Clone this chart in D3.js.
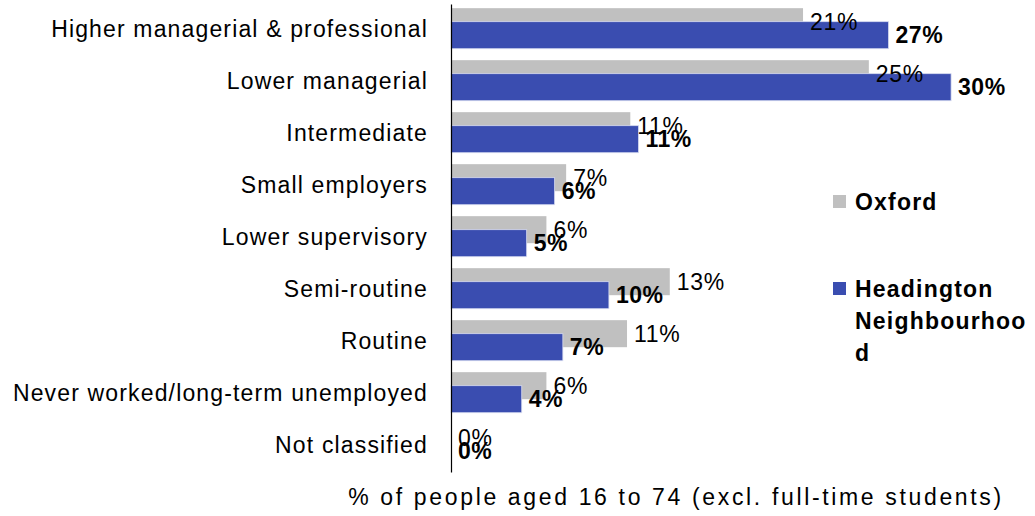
<!DOCTYPE html>
<html>
<head>
<meta charset="utf-8">
<script src="https://cdn.jsdelivr.net/npm/d3@7/dist/d3.min.js"></script>
<style>
  html, body { margin: 0; padding: 0; background: #fff; }
  svg { display: block; font-family: "Liberation Sans", Arial, sans-serif; }
</style>
</head>
<body>
<svg id="chart" width="1035" height="516"></svg>
<script>
const categories = [
  "Higher managerial & professional",
  "Lower managerial",
  "Intermediate",
  "Small employers",
  "Lower supervisory",
  "Semi-routine",
  "Routine",
  "Never worked/long-term unemployed",
  "Not classified"
];
const oxford = [21.4, 25.4, 10.9, 7.0, 5.8, 13.3, 10.7, 5.8, 0.0];
const headington = [26.6, 30.4, 11.4, 6.3, 4.6, 9.6, 6.8, 4.3, 0.0];
const oxfordLabels = ["21%", "25%", "11%", "7%", "6%", "13%", "11%", "6%", "0%"];
const headingtonLabels = ["27%", "30%", "11%", "6%", "5%", "10%", "7%", "4%", "0%"];
const seriesNames = ["Oxford", "Headington Neighbourhood"];
const axisTitle = "% of people aged 16 to 74 (excl. full-time students)";

const svg = d3.select("#chart");
const x0 = 451;
const x = d3.scaleLinear().domain([0, 35]).range([x0, x0 + 35 * 16.45]);
const y = d3.scaleBand().domain(categories).range([4, 472]).paddingInner(0).paddingOuter(0);
const step = y.step();
const barH = step * 0.52;
const greyOff = step * 0.08;
const blueOff = greyOff + barH * 0.5;

const grey = "#c0c0c0", blue = "#3a4db0";

// Oxford bars
svg.append("g").selectAll("rect").data(categories).join("rect")
  .attr("x", x(0))
  .attr("y", (d) => y(d) + greyOff)
  .attr("width", (d, i) => x(oxford[i]) - x(0))
  .attr("height", barH)
  .attr("fill", grey);

// Headington bars
svg.append("g").selectAll("rect").data(categories).join("rect")
  .attr("x", x(0))
  .attr("y", (d) => y(d) + blueOff)
  .attr("width", (d, i) => x(headington[i]) - x(0))
  .attr("height", barH)
  .attr("fill", blue)
  .attr("stroke", (d, i) => headington[i] > 0 ? "#d8dcf0" : "none")
  .attr("stroke-width", 0.8);

// Oxford labels
svg.append("g").selectAll("text").data(categories).join("text")
  .attr("x", (d, i) => x(oxford[i]) + 7)
  .attr("y", (d) => y(d) + greyOff + barH / 2)
  .attr("dy", "0.36em")
  .attr("font-size", 23)
  .attr("letter-spacing", 0.7)
  .attr("fill", "#000")
  .text((d, i) => oxfordLabels[i]);

// Headington labels
svg.append("g").selectAll("text").data(categories).join("text")
  .attr("x", (d, i) => x(headington[i]) + 7)
  .attr("y", (d) => y(d) + blueOff + barH / 2)
  .attr("dy", "0.36em")
  .attr("font-size", 23)
  .attr("font-weight", "bold")
  .attr("letter-spacing", 0.5)
  .attr("fill", "#000")
  .text((d, i) => headingtonLabels[i]);

// Category axis
const yAxis = svg.append("g")
  .attr("transform", `translate(${x0},0)`)
  .call(d3.axisLeft(y).tickSize(0).tickPadding(23));
yAxis.select(".domain").attr("stroke", "#000").attr("stroke-width", 1.2);
yAxis.selectAll("text")
  .attr("font-size", 23)
  .attr("letter-spacing", 1.15)
  .attr("fill", "#000")
  .attr("font-family", "'Liberation Sans', Arial, sans-serif");

// Axis title
svg.append("text")
  .attr("x", 676)
  .attr("y", 505)
  .attr("text-anchor", "middle")
  .attr("font-size", 23)
  .attr("letter-spacing", 2.65)
  .attr("fill", "#000")
  .text(axisTitle);

// Legend
const lg = svg.append("g");
lg.append("rect").attr("x", 833).attr("y", 195).attr("width", 13).attr("height", 13).attr("fill", grey);
lg.append("text").attr("x", 855).attr("y", 210)
  .attr("font-size", 23).attr("font-weight", "bold").attr("letter-spacing", 1.2)
  .text(seriesNames[0]);
lg.append("rect").attr("x", 833).attr("y", 282).attr("width", 13).attr("height", 13).attr("fill", blue);
const t2 = lg.append("text").attr("x", 855).attr("y", 297)
  .attr("font-size", 23).attr("font-weight", "bold").attr("letter-spacing", 1.2);
const parts = ["Headington", "Neighbourhoo", "d"];
parts.forEach((p, i) => {
  t2.append("tspan").attr("x", 855).attr("dy", i === 0 ? 0 : 32).text(p);
});
</script>
</body>
</html>
